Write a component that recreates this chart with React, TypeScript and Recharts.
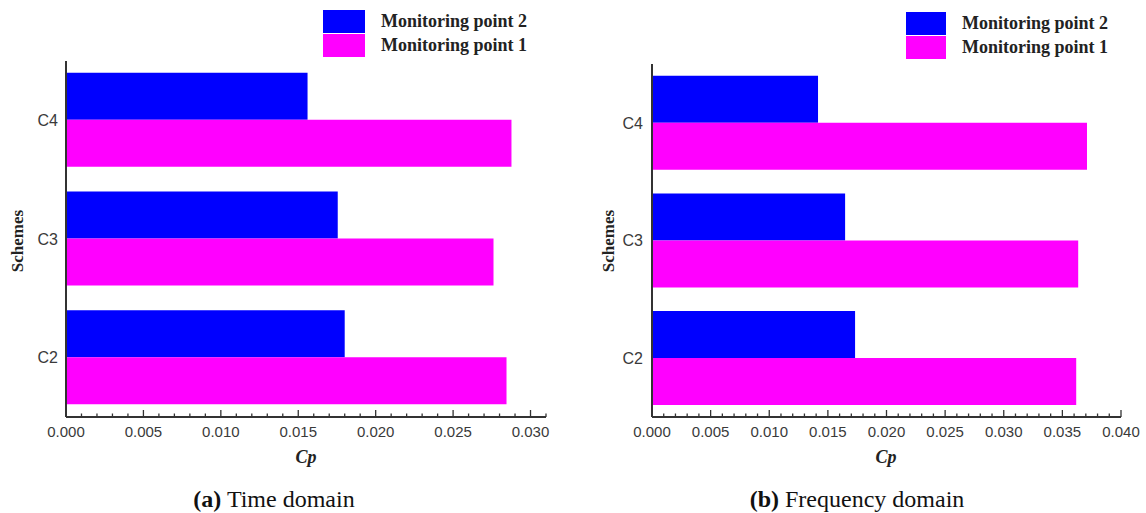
import React from "react";
import { BarChart, Bar, XAxis, YAxis, Legend } from "recharts";

// Cp values per scheme (top to bottom: C4, C3, C2)
const schemes = ["C4", "C3", "C2"];
const timePoint2 = [0.0156, 0.01755, 0.018];
const timePoint1 = [0.02877, 0.02761, 0.02845];
const freqPoint2 = [0.01416, 0.01647, 0.01732];
const freqPoint1 = [0.0371, 0.03635, 0.03618];

const timeMajorTicks = [0, 0.005, 0.01, 0.015, 0.02, 0.025, 0.03];
const freqMajorTicks = [0, 0.005, 0.01, 0.015, 0.02, 0.025, 0.03, 0.035, 0.04];

const BLUE = "#0000ff";
const MAGENTA = "#ff00ff";
const AXIS = "#333";

const SERIF = '"Liberation Serif", "Times New Roman", serif';
const SANS = '"Liberation Sans", Arial, sans-serif';

// major ticks every 0.005 with four minor ticks between each pair,
// plus one extra minor step when the axis runs past the last major
const withMinor = (majors: number[], end: number) => {
  const out: number[] = [];
  majors.forEach((m, i) => {
    out.push(m);
    const next = i < majors.length - 1 ? majors[i + 1] : end;
    for (let k = 1; m + k * 0.001 < next + 1e-9 && k < 5; k++) out.push(m + k * 0.001);
  });
  return out;
};

const buildRows = (p2: number[], p1: number[]) =>
  schemes.map((s, i) => ({ scheme: s, p2: p2[i], p1: p1[i] }));

const CpTick = (props: any) => {
  const { x, y, payload } = props;
  const major = Math.round(payload.value * 1000) % 5 === 0;
  return (
    <g>
      <line x1={x} x2={x} y1={y} y2={y - (major ? 7 : 3.5)} stroke={AXIS} strokeWidth={1.3} />
      {major && (
        <text x={x} y={y + 20} textAnchor="middle" fill="#3a3a3a" fontSize={15} fontFamily={SANS}>
          {payload.value.toFixed(3)}
        </text>
      )}
    </g>
  );
};

const LegendBox = ({ payload, swatchW, textSize }: any) => (
  <div>
    {[...payload]
      .sort((a: any, b: any) => String(b.value).localeCompare(String(a.value)))
      .map((p: any) => (
        <div key={p.value} style={{ display: "flex", alignItems: "center", height: 24 }}>
          <div style={{ width: swatchW, height: 23, background: p.color }} />
          <span
            style={{
              marginLeft: 16,
              fontFamily: SERIF,
              fontWeight: "bold",
              fontSize: textSize,
              color: "#222",
              whiteSpace: "nowrap",
            }}
          >
            {p.value}
          </span>
        </div>
      ))}
  </div>
);

interface PanelProps {
  left: number;
  width: number;
  top: number;
  yAxisWidth: number;
  yTickGap: number;
  rightMargin: number;
  domainEnd: number;
  majors: number[];
  p2: number[];
  p1: number[];
  legendLeft: number;
  legendTop: number;
  swatchW: number;
  legendText: number;
}

const Panel = (p: PanelProps) => (
  <div style={{ position: "absolute", left: p.left, top: 0 }}>
    <BarChart
      width={p.width}
      height={513}
      data={buildRows(p.p2, p.p1)}
      layout="vertical"
      margin={{ top: p.top, right: p.rightMargin, bottom: 66, left: 0 }}
      barCategoryGap="10%"
      barGap={0}
    >
      <XAxis
        type="number"
        domain={[0, p.domainEnd]}
        ticks={withMinor(p.majors, p.domainEnd)}
        interval={0}
        allowDataOverflow
        height={30}
        tickSize={0}
        tickMargin={0}
        tickLine={false}
        tick={<CpTick />}
        axisLine={{ stroke: AXIS, strokeWidth: 2 }}
      />
      <YAxis
        type="category"
        dataKey="scheme"
        width={p.yAxisWidth}
        tickLine={false}
        tickSize={0}
        tickMargin={p.yTickGap}
        axisLine={{ stroke: AXIS, strokeWidth: 2 }}
        tick={{ fill: "#3a3a3a", fontSize: 16, fontFamily: SANS }}
      />
      <Legend
        verticalAlign="middle"
        align="center"
        wrapperStyle={{ top: p.legendTop, left: p.legendLeft, width: 260 }}
        content={(props: any) => (
          <LegendBox payload={props.payload} swatchW={p.swatchW} textSize={p.legendText} />
        )}
      />
      <Bar dataKey="p2" name="Monitoring point 2" fill={BLUE} isAnimationActive={false} />
      <Bar dataKey="p1" name="Monitoring point 1" fill={MAGENTA} isAnimationActive={false} />
    </BarChart>
  </div>
);

const Caption = ({ cx, tag, text }: { cx: number; tag: string; text: string }) => (
  <div
    style={{
      position: "absolute",
      left: cx - 200,
      width: 400,
      top: 487,
      lineHeight: "24px",
      textAlign: "center",
      fontFamily: SERIF,
      fontSize: 24,
      color: "#111",
    }}
  >
    <b>{tag}</b> {text}
  </div>
);

const AxisTitleCp = ({ cx }: { cx: number }) => (
  <div
    style={{
      position: "absolute",
      left: cx - 30,
      width: 60,
      top: 447,
      textAlign: "center",
      fontFamily: SERIF,
      fontWeight: "bold",
      fontStyle: "italic",
      fontSize: 18,
      color: "#222",
    }}
  >
    Cp
  </div>
);

const AxisTitleSchemes = ({ cx, cy }: { cx: number; cy: number }) => (
  <div
    style={{
      position: "absolute",
      left: cx - 50,
      top: cy - 11,
      width: 100,
      height: 22,
      lineHeight: "22px",
      textAlign: "center",
      transform: "rotate(-90deg)",
      fontFamily: SERIF,
      fontWeight: "bold",
      fontSize: 17,
      color: "#222",
    }}
  >
    Schemes
  </div>
);

export default function App() {
  return (
    <div
      style={{
        position: "absolute",
        left: 0,
        top: 0,
        width: 1146,
        height: 513,
        background: "#fff",
        overflow: "hidden",
      }}
    >
      <Panel
        left={0}
        width={580}
        top={61}
        yAxisWidth={66}
        yTickGap={8}
        rightMargin={34}
        domainEnd={0.031}
        majors={timeMajorTicks}
        p2={timePoint2}
        p1={timePoint1}
        legendLeft={323}
        legendTop={9}
        swatchW={42}
        legendText={18}
      />
      <Panel
        left={580}
        width={566}
        top={64}
        yAxisWidth={72}
        yTickGap={9}
        rightMargin={25}
        domainEnd={0.04}
        majors={freqMajorTicks}
        p2={freqPoint2}
        p1={freqPoint1}
        legendLeft={326}
        legendTop={11}
        swatchW={40}
        legendText={18}
      />
      <AxisTitleSchemes cx={18} cy={241} />
      <AxisTitleSchemes cx={609} cy={241} />
      <AxisTitleCp cx={306} />
      <AxisTitleCp cx={886} />
      <Caption cx={274} tag="(a)" text="Time domain" />
      <Caption cx={857} tag="(b)" text="Frequency domain" />
    </div>
  );
}
